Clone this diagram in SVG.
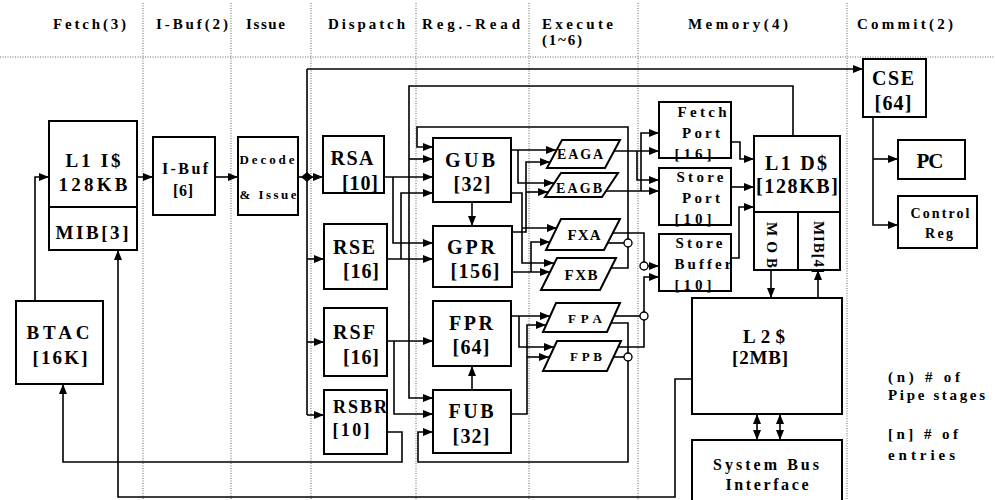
<svg xmlns="http://www.w3.org/2000/svg" width="995" height="500" viewBox="0 0 995 500">
<style>
.box{fill:#fff;stroke:#000;stroke-width:2}
.ln{fill:none;stroke:#000;stroke-width:1.6}
.ar{marker-end:url(#ah)}
.sep{fill:none;stroke:#666;stroke-width:1;stroke-dasharray:1 1.5}
.t{font-family:"Liberation Serif","Times New Roman",serif;font-weight:bold;fill:#000}
.h{font-size:15px}
.m{text-anchor:middle}
.jc{fill:#fff;stroke:#000;stroke-width:1.4}
</style>
<defs>
<marker id="ah" viewBox="0 0 10 8" refX="10" refY="4" markerWidth="11" markerHeight="8" markerUnits="userSpaceOnUse" orient="auto-start-reverse"><path d="M0,0 L10,4 L0,8 z" fill="#000"/></marker>
</defs>
<rect width="995" height="500" fill="#fff"/>
<g id="separators">
<path class="sep" d="M0,57 H995 M143,3 V500 M231,3 V500 M311,3 V500 M416,3 V500 M529,3 V500 M638,3 V500 M847,3 V500"/>
</g>
<g id="headers" class="t h">
<text x="53" y="29" textLength="73">Fetch(3)</text>
<text x="156" y="29" textLength="72">I-Buf(2)</text>
<text x="246" y="29" textLength="39">Issue</text>
<text x="328" y="29" textLength="77">Dispatch</text>
<text x="422" y="29" textLength="98">Reg.-Read</text>
<text x="542" y="29" textLength="71">Execute</text>
<text x="542" y="45" textLength="40">(1~6)</text>
<text x="688" y="29" textLength="100">Memory(4)</text>
<text x="857" y="29" textLength="96">Commit(2)</text>
</g>
<g id="connectors">
<path class="ln ar" d="M35,301 V177 H49"/>
<path class="ln ar" d="M137,177 H153"/>
<path class="ln ar" d="M215,177 H238"/>
<path class="ln ar" d="M298,177 H323"/>
<path class="ln" d="M307,69 V415"/>
<path class="ln ar" d="M307,69 H863"/>
<path class="ln ar" d="M307,259 H324"/>
<path class="ln ar" d="M307,342 H324"/>
<path class="ln ar" d="M307,415 H324"/>
<polygon points="301,177 307,172 313,177 307,182" fill="#000"/>
<path class="ln ar" d="M384,177 H433"/>
<path class="ln ar" d="M393,177 V243 H433"/>
<path class="ln ar" d="M387,259 H433"/>
<path class="ln ar" d="M401,259 V193 H433"/>
<path class="ln ar" d="M387,341 H433"/>
<path class="ln ar" d="M394,341 V414 H433"/>
<path class="ln ar" d="M387,432 H402 V462 H63 V384"/>
<path class="ln ar" d="M793,136 V86 H409 V398 H433"/>
<path class="ln ar" d="M409,159 H433"/>
<path class="ln ar" d="M611,268 H628 V127 H417 V147 H433"/>
<path class="ln" d="M608,243 H624"/>
<path class="ln ar" d="M611,323 H628 V462 H418 V432 H433"/>
<path class="ln" d="M613,357 H624"/>
<path class="ln ar" d="M472,202 V226"/>
<path class="ln ar" d="M472,390 V366"/>
<path class="ln ar" d="M511,150 H556"/>
<path class="ln ar" d="M518,150 V183 H554"/>
<path class="ln ar" d="M511,193 H522 V263 H554"/>
<path class="ln ar" d="M522,228 H557"/>
<path class="ln ar" d="M512,232 H526 V162 H550"/>
<path class="ln ar" d="M526,192 H548"/>
<path class="ln ar" d="M512,272 H550"/>
<path class="ln ar" d="M531,272 V242 H550"/>
<path class="ln ar" d="M511,316 H550"/>
<path class="ln ar" d="M519,316 V347 H554"/>
<path class="ln ar" d="M511,414 H527 V325 H546"/>
<path class="ln ar" d="M527,357 H549"/>
<path class="ln ar" d="M614,151 H659"/>
<path class="ln ar" d="M637,151 V180 H659"/>
<path class="ln ar" d="M606,191 H659"/>
<path class="ln ar" d="M641,191 V133 H659"/>
<path class="ln ar" d="M613,233 H644 V266 H659"/>
<path class="ln ar" d="M618,347 H644 V277 H659"/>
<path class="ln" d="M614,316 H640"/>
<path class="ln ar" d="M731,142 H740 V159 H754"/>
<path class="ln ar" d="M731,187 H754"/>
<path class="ln ar" d="M731,258 H739 V207 H754"/>
<path class="ln ar" d="M771,270 V298"/>
<path class="ln ar" d="M818,298 V270"/>
<path class="ln ar" d="M757,414 V440" marker-start="url(#ah)"/>
<path class="ln ar" d="M780,414 V440" marker-start="url(#ah)"/>
<path class="ln ar" d="M692,379 H675 V497 H118 V250"/>
<path class="ln ar" d="M873,117 V225 H898"/>
<path class="ln ar" d="M873,159 H898"/>
<circle class="jc" cx="628" cy="243" r="4"/>
<circle class="jc" cx="628" cy="357" r="4"/>
<circle class="jc" cx="644" cy="266" r="4"/>
<circle class="jc" cx="644" cy="316" r="4"/>
</g>
<g id="node-l1i">
<rect class="box" x="49" y="121" width="88" height="129"/>
<path class="ln" d="M49,207 H137" style="stroke-width:2"/>
<text class="t m" x="93" y="167" font-size="19" textLength="55">L1 I$</text>
<text class="t m" x="93" y="191" font-size="19" textLength="69">128KB</text>
<text class="t m" x="92" y="239" font-size="19" textLength="73">MIB[3]</text>
</g>
<g id="node-btac">
<rect class="box" x="16" y="301" width="87" height="83"/>
<text class="t m" x="58" y="339" font-size="19" textLength="63">BTAC</text>
<text class="t m" x="60" y="364" font-size="19" textLength="55">[16K]</text>
</g>
<g id="node-ibuf">
<rect class="box" x="153" y="137" width="62" height="78"/>
<text class="t m" x="185" y="174" font-size="16" textLength="46">I-Buf</text>
<text class="t m" x="183" y="196" font-size="16" textLength="20">[6]</text>
</g>
<g id="node-decode">
<rect class="box" x="238" y="137" width="60" height="78"/>
<text class="t m" x="267" y="164" font-size="13" textLength="55">Decode</text>
<text class="t m" x="268" y="199" font-size="13" textLength="57">&amp; Issue</text>
</g>
<g id="node-rsa">
<rect class="box" x="323" y="136" width="61" height="57"/>
<text class="t m" x="352" y="165" font-size="20" textLength="43">RSA</text>
<text class="t m" x="360" y="190" font-size="20" textLength="36">[10]</text>
</g>
<g id="node-rse">
<rect class="box" x="324" y="224" width="63" height="65"/>
<text class="t m" x="354" y="254" font-size="20" textLength="42">RSE</text>
<text class="t m" x="361" y="278" font-size="20" textLength="36">[16]</text>
</g>
<g id="node-rsf">
<rect class="box" x="324" y="308" width="63" height="68"/>
<text class="t m" x="354" y="339" font-size="20" textLength="42">RSF</text>
<text class="t m" x="361" y="364" font-size="20" textLength="36">[16]</text>
</g>
<g id="node-rsbr">
<rect class="box" x="324" y="390" width="63" height="64"/>
<text class="t m" x="360" y="413" font-size="18" textLength="54">RSBR</text>
<text class="t m" x="351" y="436" font-size="18" textLength="37">[10]</text>
</g>
<g id="node-gub">
<rect class="box" x="433" y="138" width="78" height="64"/>
<text class="t m" x="470" y="167" font-size="20" textLength="50">GUB</text>
<text class="t m" x="472" y="191" font-size="20" textLength="37">[32]</text>
</g>
<g id="node-gpr">
<rect class="box" x="433" y="226" width="79" height="61"/>
<text class="t m" x="471" y="254" font-size="20" textLength="48">GPR</text>
<text class="t m" x="475" y="278" font-size="20" textLength="49">[156]</text>
</g>
<g id="node-fpr">
<rect class="box" x="433" y="301" width="78" height="65"/>
<text class="t m" x="471" y="330" font-size="20" textLength="44">FPR</text>
<text class="t m" x="471" y="354" font-size="20" textLength="37">[64]</text>
</g>
<g id="node-fub">
<rect class="box" x="433" y="390" width="78" height="63"/>
<text class="t m" x="471" y="418" font-size="20" textLength="45">FUB</text>
<text class="t m" x="471" y="443" font-size="20" textLength="37">[32]</text>
</g>
<g id="node-eaga">
<polygon class="box" points="562,140 620,140 605,168 547,168"/>
<text class="t m" x="580" y="159" font-size="14" textLength="46">EAGA</text>
</g>
<g id="node-eagb">
<polygon class="box" points="561,173 618,173 602,197 545,197"/>
<text class="t m" x="579" y="193" font-size="14" textLength="46">EAGB</text>
</g>
<g id="node-fxa">
<polygon class="box" points="561,219 620,219 604,250 546,250"/>
<text class="t m" x="584" y="240" font-size="15" textLength="33">FXA</text>
</g>
<g id="node-fxb">
<polygon class="box" points="557,258 616,258 600,290 541,290"/>
<text class="t m" x="581" y="280" font-size="15" textLength="33">FXB</text>
</g>
<g id="node-fpa">
<polygon class="box" points="556,303 620,303 607,332 543,332"/>
<text class="t m" x="585" y="323" font-size="13" textLength="34">FPA</text>
</g>
<g id="node-fpb">
<polygon class="box" points="557,341 621,341 607,371 543,371"/>
<text class="t m" x="586" y="361" font-size="13" textLength="32">FPB</text>
</g>
<g id="node-fetchport">
<rect class="box" x="659" y="102" width="72" height="56"/>
<text class="t m" x="702" y="117" font-size="15" textLength="49">Fetch</text>
<text class="t m" x="701" y="138" font-size="15" textLength="38">Port</text>
<text class="t m" x="693" y="159" font-size="15" textLength="37">[16]</text>
</g>
<g id="node-storeport">
<rect class="box" x="659" y="168" width="72" height="57"/>
<text class="t m" x="700" y="182" font-size="15" textLength="47">Store</text>
<text class="t m" x="701" y="203" font-size="15" textLength="38">Port</text>
<text class="t m" x="693" y="224" font-size="15" textLength="37">[10]</text>
</g>
<g id="node-storebuffer">
<rect class="box" x="659" y="234" width="72" height="57"/>
<text class="t m" x="699" y="248" font-size="15" textLength="47">Store</text>
<text class="t m" x="703" y="269" font-size="15" textLength="57">Buffer</text>
<text class="t m" x="693" y="290" font-size="15" textLength="37">[10]</text>
</g>
<g id="node-l1d">
<rect class="box" x="754" y="136" width="86" height="134"/>
<path class="ln" d="M754,212 H840 M798,212 V270" style="stroke-width:2"/>
<text class="t m" x="796" y="170" font-size="20" textLength="62">L1 D$</text>
<text class="t m" x="797" y="193" font-size="20" textLength="82">[128KB]</text>
<text class="t" transform="translate(767,222) rotate(90)" font-size="15" textLength="46">MOB</text>
<text class="t" transform="translate(814,221) rotate(90)" font-size="15" textLength="52">MIB[4]</text>
</g>
<g id="node-l2">
<rect class="box" x="692" y="298" width="150" height="116"/>
<text class="t m" x="764" y="343" font-size="19" textLength="42">L2$</text>
<text class="t m" x="760" y="364" font-size="19" textLength="56">[2MB]</text>
</g>
<g id="node-sbi">
<rect class="box" x="692" y="440" width="150" height="70"/>
<text class="t m" x="766" y="470" font-size="16" textLength="106">System Bus</text>
<text class="t m" x="767" y="490" font-size="16" textLength="83">Interface</text>
</g>
<g id="node-cse">
<rect class="box" x="863" y="59" width="63" height="58"/>
<text class="t m" x="893" y="85" font-size="20" textLength="42">CSE</text>
<text class="t m" x="893" y="110" font-size="20" textLength="37">[64]</text>
</g>
<g id="node-pc">
<rect class="box" x="898" y="140" width="67" height="39"/>
<text class="t m" x="930" y="168" font-size="21" textLength="27">PC</text>
</g>
<g id="node-ctrlreg">
<rect class="box" x="898" y="196" width="79" height="52"/>
<text class="t m" x="940" y="218" font-size="14" textLength="59">Control</text>
<text class="t m" x="939" y="238" font-size="14" textLength="28">Reg</text>
</g>
<g id="legend" class="t h">
<text x="888" y="382" textLength="72">(n) # of</text>
<text x="888" y="400" textLength="97">Pipe stages</text>
<text x="888" y="439" textLength="70">[n] # of</text>
<text x="888" y="460" textLength="67">entries</text>
</g>
</svg>
